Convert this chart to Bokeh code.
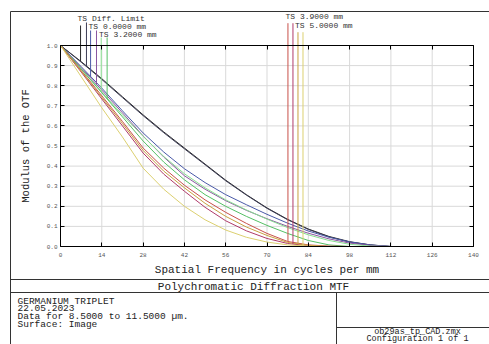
import numpy as np
from bokeh.plotting import figure
from bokeh.models import Range1d, LinearAxis, FixedTicker, Label
from bokeh.embed import file_html
from bokeh.resources import INLINE

# ---------------- data ----------------
freq = [0, 7, 14, 21, 28, 35, 42, 49, 56, 63, 70, 77, 84, 91, 98, 105, 112, 119, 126, 133, 140]

diff_t = [1.000, 0.920, 0.835, 0.745, 0.655, 0.570, 0.490, 0.410, 0.330, 0.258, 0.192, 0.135, 0.087, 0.050, 0.024, 0.008, 0.000, 0, 0, 0, 0]
diff_s = [1.000, 0.917, 0.831, 0.741, 0.651, 0.566, 0.486, 0.407, 0.327, 0.256, 0.190, 0.133, 0.085, 0.048, 0.022, 0.007, 0.000, 0, 0, 0, 0]
f00_t = [1.000, 0.895, 0.788, 0.675, 0.565, 0.470, 0.387, 0.318, 0.258, 0.208, 0.160, 0.116, 0.077, 0.046, 0.023, 0.008, 0.000, 0, 0, 0, 0]
f00_s = [1.000, 0.890, 0.778, 0.665, 0.550, 0.445, 0.352, 0.285, 0.228, 0.180, 0.138, 0.100, 0.066, 0.038, 0.017, 0.005, 0.000, 0, 0, 0, 0]
f32_t = [1.000, 0.885, 0.768, 0.655, 0.548, 0.448, 0.362, 0.292, 0.232, 0.182, 0.136, 0.094, 0.058, 0.030, 0.011, 0.002, 0.000, 0, 0, 0, 0]
f32_s = [1.000, 0.883, 0.765, 0.645, 0.525, 0.420, 0.332, 0.258, 0.200, 0.150, 0.105, 0.065, 0.030, 0.008, 0.000, 0.000, 0.000, 0, 0, 0, 0]
f39_t = [1.000, 0.876, 0.750, 0.622, 0.490, 0.390, 0.305, 0.232, 0.170, 0.115, 0.065, 0.025, 0.008, 0.002, 0.000, 0.000, 0.000, 0, 0, 0, 0]
f39_s = [1.000, 0.868, 0.734, 0.600, 0.465, 0.360, 0.275, 0.195, 0.128, 0.078, 0.040, 0.015, 0.004, 0.000, 0.000, 0.000, 0.000, 0, 0, 0, 0]
f50_t = [1.000, 0.872, 0.742, 0.612, 0.478, 0.375, 0.292, 0.215, 0.150, 0.097, 0.055, 0.020, 0.006, 0.000, 0.000, 0.000, 0.000, 0, 0, 0, 0]
f50_s = [1.000, 0.845, 0.690, 0.545, 0.390, 0.285, 0.200, 0.133, 0.082, 0.046, 0.022, 0.008, 0.002, 0.000, 0.000, 0.000, 0.000, 0, 0, 0, 0]

series = [diff_t, diff_s, f00_t, f00_s, f32_t, f32_s, f39_t, f39_s, f50_t, f50_s]
colors = ["#2b2b2b", "#3d3d55", "#4a5aa8", "#8a55a0", "#88e090", "#55c065",
          "#c8504a", "#b03a6a", "#c8a040", "#dcd070"]

legend_labels = ["TS Diff. Limit", "TS 0.0000 mm", "TS 3.2000 mm", "TS 3.9000 mm", "TS 5.0000 mm"]
# frequency at which each callout line meets its curve
callout_freq = [6.8, 8.8, 10.2, 12.2, 13.8, 15.8, 77.1, 78.8, 80.5, 82.2]

x_ticks = [0, 14, 28, 42, 56, 70, 84, 98, 112, 126, 140]
y_ticks = [0.0, 0.1, 0.2, 0.3, 0.4, 0.5, 0.6, 0.7, 0.8, 0.9, 1.0]
y_tick_labels = ["0.0", "0.1", "0.2", "0.3", "0.4", "0.5", "0.6", "0.7", "0.8", "0.9", "1.0"]

info_lines = ["GERMANIUM TRIPLET", "22.05.2023", "Data for 8.5000 to 11.5000 \u00b5m.", "Surface: Image"]
file_lines = ["ob29as_tp_CAD.zmx", "Configuration 1 of 1"]

FONT = "Liberation Mono"

# ---------------- layout helpers (picture pixels -> data) ----------------
W, H = 489, 344
PLOT_L, PLOT_R, PLOT_T, PLOT_B = 60, 473, 45, 246
sx = (PLOT_R - PLOT_L) / 140.0
sy = (PLOT_B - PLOT_T) / 1.0
def X(px):
    return (px - PLOT_L) / sx
def Y(py):
    return (PLOT_B - py) / sy

p = figure(width=W, height=H,
           min_border_left=0, min_border_right=0, min_border_top=0, min_border_bottom=0,
           x_range=Range1d(X(0), X(W)), y_range=Range1d(Y(H), Y(0)),
           x_axis_type=None, y_axis_type=None,
           output_backend="svg", toolbar_location=None,
           background_fill_color="white", border_fill_color="white")
p.outline_line_color = None

def style_axis(ax, labels=True):
    ax.axis_line_color = "black"
    ax.major_tick_in = 4
    ax.major_tick_out = 0
    ax.minor_tick_line_color = None
    ax.major_tick_line_color = "black"
    if labels:
        ax.major_label_text_font = FONT
        ax.major_label_text_font_size = "6px"
        ax.major_label_text_color = "#555555"
        ax.axis_label_text_font = FONT
        ax.axis_label_text_font_style = "normal"
        ax.axis_label_text_font_size = "10.5px"
        ax.axis_label_text_color = "#222222"
    else:
        ax.major_label_text_color = None
        ax.major_label_text_font_size = "6px"

# grid (under everything)
p.segment(x0=x_ticks[1:-1], y0=0, x1=x_ticks[1:-1], y1=1.0, line_color="#d9d9d9", line_width=1)
p.segment(x0=0, y0=y_ticks[1:-1], x1=140, y1=y_ticks[1:-1], line_color="#d9d9d9", line_width=1)

xa = LinearAxis(fixed_location=0, bounds=(0, 140), ticker=FixedTicker(ticks=x_ticks),
                axis_label="Spatial Frequency in cycles per mm", axis_label_standoff=4)
style_axis(xa)
xa.major_label_standoff = 6
xa.axis_label_text_font_size = "11px"
p.add_layout(xa, "below")

ya = LinearAxis(fixed_location=0, bounds=(0, 1), ticker=FixedTicker(ticks=y_ticks),
                axis_label="Modulus of the OTF", axis_label_standoff=12)
ya.major_label_overrides = {t: s for t, s in zip(y_ticks, y_tick_labels)}
style_axis(ya)
ya.major_label_standoff = 3
p.add_layout(ya, "left")

ta = LinearAxis(fixed_location=1.0, bounds=(0, 140), ticker=FixedTicker(ticks=x_ticks))
style_axis(ta, labels=False)
p.add_layout(ta, "above")

ra = LinearAxis(fixed_location=140, bounds=(0, 1), ticker=FixedTicker(ticks=y_ticks))
style_axis(ra, labels=False)
p.add_layout(ra, "right")

# curves
for s, c in zip(series, colors):
    p.line(freq, s, line_color=c, line_width=1)

# legend callout lines
callout_top_px = [25, 22, 30, 30, 37, 37, 22.7, 22.7, 31.7, 31.7]
cy0 = [float(np.interp(fq, freq, s)) for fq, s in zip(callout_freq, series)]
cy1 = [Y(t) for t in callout_top_px]
p.segment(x0=callout_freq, y0=cy0, x1=callout_freq, y1=cy1, line_color=colors, line_width=1)

label_pos = [(77, 18), (88, 25.7), (98.5, 33.5), (285, 16), (294.5, 25)]
for txt, (lx, ly) in zip(legend_labels, label_pos):
    p.add_layout(Label(x=X(lx), y=Y(ly), text=txt, text_font=FONT, text_font_size="8px",
                       text_baseline="middle", text_align="left", text_color="#333333"))

# outer frame lines
hx0 = [X(10), X(10), X(10), X(336)]
hx1 = [X(500), X(500), X(500), X(500)]
hy = [Y(11), Y(279), Y(292), Y(327)]
p.segment(x0=hx0, y0=hy, x1=hx1, y1=hy, line_color="#333333", line_width=1)
vx = [X(10), X(336)]
vy0 = [Y(11), Y(292)]
vy1 = [Y(350), Y(350)]
p.segment(x0=vx, y0=vy0, x1=vx, y1=vy1, line_color="#333333", line_width=1)

p.add_layout(Label(x=X(253), y=Y(286), text="Polychromatic Diffraction MTF", text_font=FONT,
                   text_font_size="11px", text_baseline="middle", text_align="center",
                   text_color="#222222"))
p.add_layout(Label(x=X(17), y=Y(295), text="\n".join(info_lines), text_font=FONT,
                   text_font_size="9.5px", text_baseline="top", text_align="left",
                   text_line_height=0.72, text_color="#222222"))
p.add_layout(Label(x=X(417), y=Y(344), text="\n".join(file_lines), text_font=FONT,
                   text_font_size="8.5px", text_baseline="bottom", text_align="center",
                   text_line_height=0.74, text_color="#222222"))

open("out.html", "w").write(file_html(p, INLINE))
